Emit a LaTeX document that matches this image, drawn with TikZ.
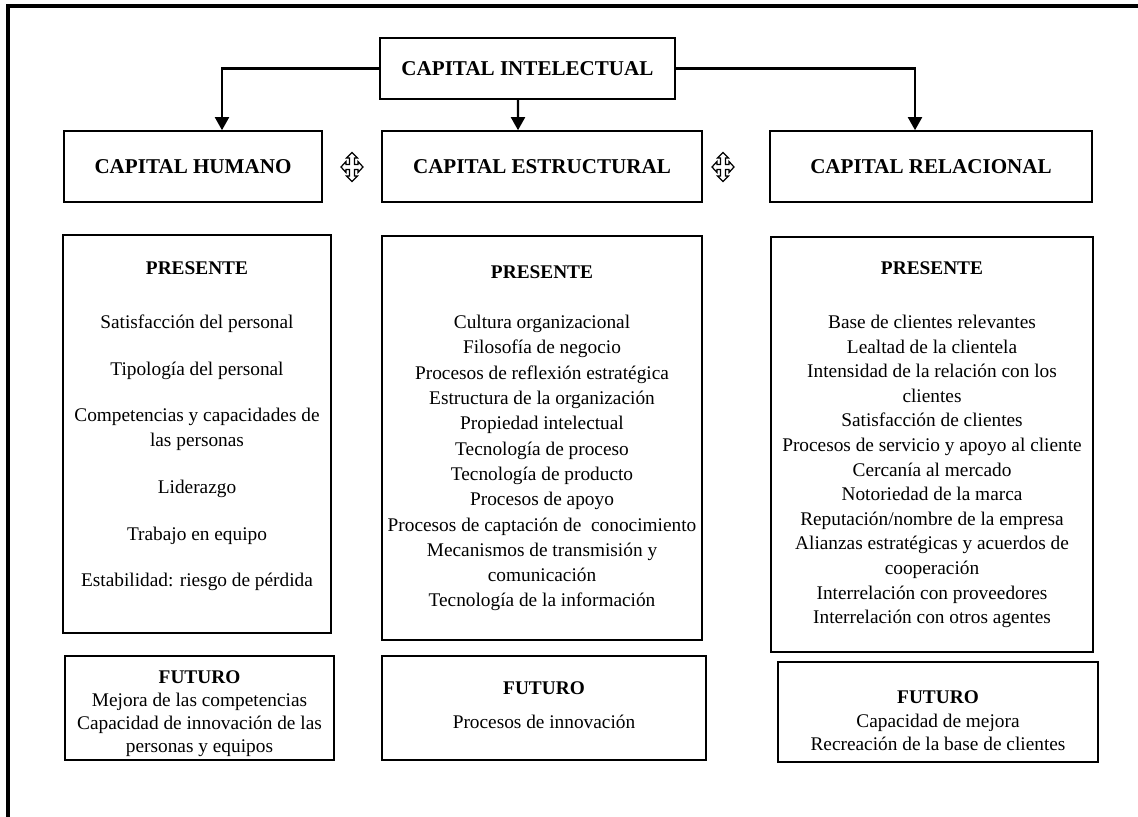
\documentclass[tikz,border=0pt]{standalone}
\usepackage{fontspec}
\setmainfont{Liberation Serif}
\usetikzlibrary{arrows.meta}

\begin{document}
\begin{tikzpicture}[x=0.02cm,y=-0.02cm,
 capbox/.style={draw,line width=0.9pt,inner sep=0pt,minimum height=1.42cm,
  font=\fontsize{12}{14}\selectfont\bfseries},
 listbox/.style={draw,line width=0.9pt,inner sep=0pt},
 listtext/.style={align=center,inner sep=0pt,anchor=north,
  font=\fontsize{11}{14}\selectfont},
 conn/.style={line width=1.3pt,-{Triangle[width=8pt,length=7.5pt]}},
 movecross/.pic={\draw[line width=0.7pt,fill=white] (11,0)--(6,-5.5)--(6,-2.5)
  --(2.5,-2.5)--(2.5,-9)--(5.5,-9)--(0,-14.5)--(-5.5,-9)--(-2.5,-9)--(-2.5,-2.5)
  --(-6,-2.5)--(-6,-5.5)--(-11,0)--(-6,5.5)--(-6,2.5)--(-2.5,2.5)--(-2.5,9)
  --(-5.5,9)--(0,14.5)--(5.5,9)--(2.5,9)--(2.5,2.5)--(6,2.5)--(6,5.5)--cycle;}]
 \useasboundingbox (0,0) rectangle (1138,817);
 \draw[line width=1.8pt] (8,817)--(8,6)--(1138,6);
 % top level
 \node[capbox,minimum width=5.9cm,minimum height=1.22cm] (intel) at (527.5,68.5)
  {CAPITAL INTELECTUAL};
 \node[capbox,minimum width=5.16cm] (humano) at (193,166.5) {CAPITAL HUMANO};
 \node[capbox,minimum width=6.4cm] (estruct) at (542,166.5) {CAPITAL ESTRUCTURAL};
 \node[capbox,minimum width=6.44cm] (relac) at (931,166.5) {CAPITAL RELACIONAL};
 \draw[conn] (intel.west) -| ([xshift=0.58cm]humano.north);
 \draw[conn] ([xshift=-0.19cm]intel.south) -- ([xshift=-0.48cm]estruct.north);
 \draw[conn] (intel.east) -| ([xshift=-0.32cm]relac.north);
 \pic at (352,167) {movecross};
 \pic at (723,167) {movecross};
 % presente
 \node[listbox,minimum width=5.36cm,minimum height=7.96cm] (hpres) at (197,434) {};
 \node[listbox,minimum width=6.4cm,minimum height=8.08cm] (epres) at (542,438) {};
 \node[listbox,minimum width=6.44cm,minimum height=8.3cm] (rpres) at (932,444.5) {};
 \node[listtext] (hprestxt) at (197,261.6) {\textbf{PRESENTE}\\[16.6pt]
  Satisfacción del personal\\[12.6pt]
  Tipología del personal\\[12.6pt]
  Competencias y capacidades de\\ las personas\\[12.6pt]
  Liderazgo\\[12.6pt]
  Trabajo en equipo\\[12.6pt]
  Estabilidad: riesgo de pérdida};
 \node[listtext,font=\fontsize{11}{14.4}\selectfont] (eprestxt) at (542,265.6)
  {\textbf{PRESENTE}\\[14pt]
  Cultura organizacional\\
  Filosofía de negocio\\
  Procesos de reflexión estratégica\\
  Estructura de la organización\\
  Propiedad intelectual\\
  Tecnología de proceso\\
  Tecnología de producto\\
  Procesos de apoyo\\
  Procesos de captación de\ \ conocimiento\\
  Mecanismos de transmisión y\\
  comunicación\\
  Tecnología de la información};
 \node[listtext] (rprestxt) at (932,261.6) {\textbf{PRESENTE}\\[16.6pt]
  Base de clientes relevantes\\
  Lealtad de la clientela\\
  Intensidad de la relación con los\\
  clientes\\
  Satisfacción de clientes\\
  Procesos de servicio y apoyo al cliente\\
  Cercanía al mercado\\
  Notoriedad de la marca\\
  Reputación/nombre de la empresa\\
  Alianzas estratégicas y acuerdos de\\
  cooperación\\
  Interrelación con proveedores\\
  Interrelación con otros agentes};
 % futuro
 \node[listbox,minimum width=5.38cm,minimum height=2.08cm] (hfut) at (199.5,708) {};
 \node[listbox,minimum width=6.48cm,minimum height=2.08cm] (efut) at (544,708) {};
 \node[listbox,minimum width=6.4cm,minimum height=2.0cm] (rfut) at (938,712) {};
 \node[listtext,font=\fontsize{11}{13}\selectfont] (hfuttxt) at (199.5,670.6)
  {\textbf{FUTURO}\\ Mejora de las competencias\\
  Capacidad de innovación de las\\ personas y equipos};
 \node[listtext] (efuttxt) at (544,681.6) {\textbf{FUTURO}\\[5pt] Procesos de innovación};
 \node[listtext,font=\fontsize{11}{13.3}\selectfont] (rfuttxt) at (938,690.6)
  {\textbf{FUTURO}\\ Capacidad de mejora\\ Recreación de la base de clientes};
\end{tikzpicture}
\end{document}
